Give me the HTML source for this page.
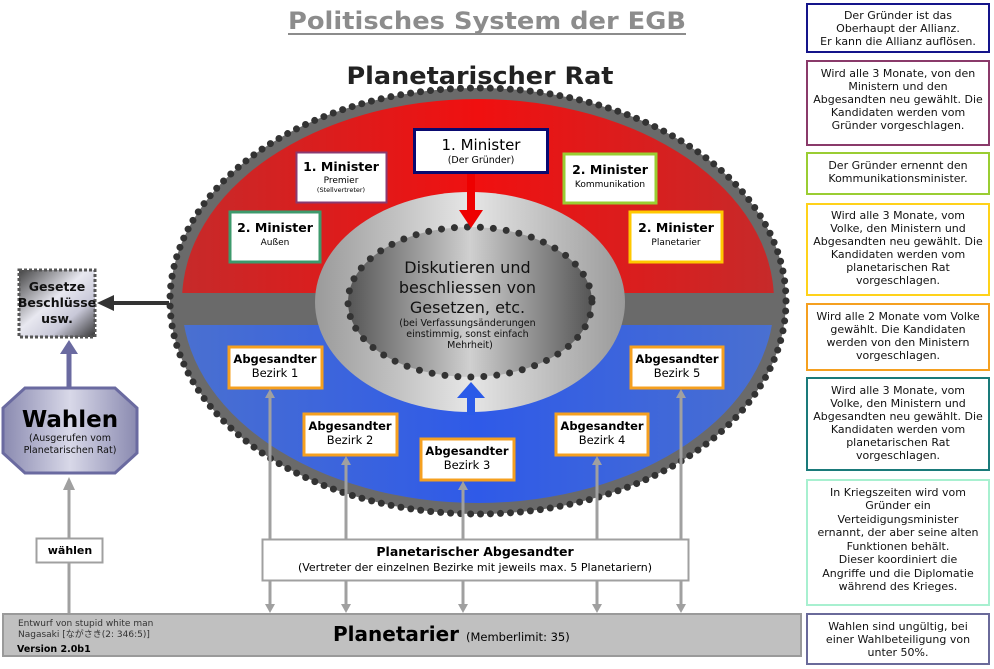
<!DOCTYPE html>
<html><head><meta charset="utf-8"><style>
html,body{margin:0;padding:0;background:#fff;}
svg{display:block;font-family:"DejaVu Sans","Liberation Sans","Noto Sans CJK JP",sans-serif;}
</style></head><body>
<svg width="994" height="669" viewBox="0 0 994 669" xmlns="http://www.w3.org/2000/svg">
<defs>
<linearGradient id="red" x1="0" x2="1"><stop offset="0" stop-color="#c62a2a"/><stop offset="0.5" stop-color="#f01010"/><stop offset="1" stop-color="#c62a2a"/></linearGradient>
<linearGradient id="blue" x1="0" x2="1"><stop offset="0" stop-color="#4a70d0"/><stop offset="0.5" stop-color="#2f5ae8"/><stop offset="1" stop-color="#4a70d0"/></linearGradient>
<linearGradient id="lg" x1="0" x2="1"><stop offset="0" stop-color="#9a9a9a"/><stop offset="0.5" stop-color="#e6e6e6"/><stop offset="1" stop-color="#9a9a9a"/></linearGradient>
<linearGradient id="dg" x1="0" x2="1"><stop offset="0" stop-color="#555"/><stop offset="0.5" stop-color="#d0d0d0"/><stop offset="1" stop-color="#555"/></linearGradient>
<linearGradient id="ges" x1="0" y1="0" x2="1" y2="1"><stop offset="0" stop-color="#444"/><stop offset="0.45" stop-color="#e8e8f0"/><stop offset="0.7" stop-color="#c8c8d8"/><stop offset="1" stop-color="#333"/></linearGradient>
<linearGradient id="wah" x1="0" x2="1"><stop offset="0" stop-color="#8a8ab0"/><stop offset="0.5" stop-color="#d8d8e8"/><stop offset="1" stop-color="#8a8ab0"/></linearGradient>
<clipPath id="top"><rect x="0" y="0" width="994" height="293"/></clipPath>
<clipPath id="bot"><rect x="0" y="325" width="994" height="300"/></clipPath>
</defs>

<text x="487" y="29" text-anchor="middle" font-size="24" font-weight="bold" fill="#8c8c8c" textLength="398" lengthAdjust="spacingAndGlyphs">Politisches System der EGB</text>
<rect x="288" y="33" width="398" height="2" fill="#8c8c8c"/>
<text x="480" y="84" text-anchor="middle" font-size="24" font-weight="bold" fill="#222" textLength="267" lengthAdjust="spacingAndGlyphs">Planetarischer Rat</text>

<ellipse cx="478" cy="301" rx="308" ry="213" fill="#6a6a6a"/>
<ellipse cx="478" cy="301" rx="296" ry="202" fill="url(#red)" clip-path="url(#top)"/>
<ellipse cx="478" cy="301" rx="296" ry="202" fill="url(#blue)" clip-path="url(#bot)"/>
<ellipse cx="478" cy="301" rx="308" ry="213" fill="none" stroke="#333" stroke-width="7" stroke-linecap="round" stroke-dasharray="0 10"/>
<ellipse cx="470" cy="302" rx="155" ry="110" fill="url(#lg)"/>
<ellipse cx="470" cy="302" rx="122" ry="75" fill="url(#dg)"/>
<ellipse cx="470" cy="302" rx="122" ry="75" fill="none" stroke="#333" stroke-width="7" stroke-linecap="round" stroke-dasharray="0 13"/>
<text text-anchor="middle" fill="#111">
<tspan x="470" y="273" font-size="16">Diskutieren und</tspan>
<tspan x="470" y="293" font-size="16">beschliessen von</tspan>
<tspan x="470" y="313" font-size="16">Gesetzen, etc.</tspan>
<tspan x="470" y="326" font-size="9.5">(bei Verfassungsänderungen</tspan>
<tspan x="470" y="337" font-size="9.5">einstimmig, sonst einfach</tspan>
<tspan x="470" y="348" font-size="9.5">Mehrheit)</tspan>
</text>
<rect x="467" y="173" width="8" height="40" fill="#e00"/>
<polygon points="459,210 483,210 471,228" fill="#e00"/>
<rect x="467" y="395" width="8" height="20" fill="#2a5ae8"/>
<polygon points="457,398 485,398 471,382" fill="#2a5ae8"/>

<g text-anchor="middle" fill="#000">
<rect x="414.5" y="129.5" width="133" height="43" fill="#fff" stroke="#0a0a70" stroke-width="3"/>
<text x="481" y="150" font-size="15">1. Minister</text><text x="481" y="163" font-size="9.5">(Der Gründer)</text>
<rect x="296.5" y="152.5" width="90" height="50" fill="#fff" stroke="#8a3a70" stroke-width="2"/>
<text x="341" y="171" font-size="12.5" font-weight="bold">1. Minister</text><text x="341" y="183" font-size="9">Premier</text><text x="341" y="192" font-size="6.5">(Stellvertreter)</text>
<rect x="564" y="154" width="92" height="49" fill="#fff" stroke="#9acd32" stroke-width="3"/>
<text x="610" y="174" font-size="12.5" font-weight="bold">2. Minister</text><text x="610" y="187" font-size="9">Kommunikation</text>
<rect x="230" y="212" width="90" height="50" fill="#fff" stroke="#3d9a6c" stroke-width="3"/>
<text x="275" y="232" font-size="12.5" font-weight="bold">2. Minister</text><text x="275" y="245" font-size="9">Außen</text>
<rect x="630" y="212" width="92" height="50" fill="#fff" stroke="#ffc800" stroke-width="3"/>
<text x="676" y="232" font-size="12.5" font-weight="bold">2. Minister</text><text x="676" y="245" font-size="9">Planetarier</text>
</g>

<g stroke="#a0a0a0" stroke-width="3" fill="none">
<line x1="270" y1="392" x2="270" y2="606"/>
<line x1="346" y1="459" x2="346" y2="606"/>
<line x1="463" y1="484" x2="463" y2="606"/>
<line x1="597" y1="459" x2="597" y2="606"/>
<line x1="681" y1="392" x2="681" y2="606"/>
</g>
<g fill="#a0a0a0">
<polygon points="265,398 275,398 270,389"/><polygon points="265,604 275,604 270,613"/>
<polygon points="341,465 351,465 346,456"/><polygon points="341,604 351,604 346,613"/>
<polygon points="458,490 468,490 463,481"/><polygon points="458,604 468,604 463,613"/>
<polygon points="592,465 602,465 597,456"/><polygon points="592,604 602,604 597,613"/>
<polygon points="676,398 686,398 681,389"/><polygon points="676,604 686,604 681,613"/>
</g>

<g text-anchor="middle" fill="#000">
<rect x="229" y="347" width="93" height="41" fill="#fff" stroke="#f5a020" stroke-width="3"/>
<text x="275" y="363" font-size="11.5" font-weight="bold">Abgesandter</text><text x="275" y="377" font-size="11.5">Bezirk 1</text>
<rect x="304" y="414" width="93" height="41" fill="#fff" stroke="#f5a020" stroke-width="3"/>
<text x="350" y="430" font-size="11.5" font-weight="bold">Abgesandter</text><text x="350" y="444" font-size="11.5">Bezirk 2</text>
<rect x="421" y="439" width="93" height="41" fill="#fff" stroke="#f5a020" stroke-width="3"/>
<text x="467" y="455" font-size="11.5" font-weight="bold">Abgesandter</text><text x="467" y="469" font-size="11.5">Bezirk 3</text>
<rect x="556" y="414" width="92" height="41" fill="#fff" stroke="#f5a020" stroke-width="3"/>
<text x="602" y="430" font-size="11.5" font-weight="bold">Abgesandter</text><text x="602" y="444" font-size="11.5">Bezirk 4</text>
<rect x="631" y="347" width="92" height="41" fill="#fff" stroke="#f5a020" stroke-width="3"/>
<text x="677" y="363" font-size="11.5" font-weight="bold">Abgesandter</text><text x="677" y="377" font-size="11.5">Bezirk 5</text>
</g>

<rect x="262.5" y="539.5" width="426" height="41" fill="#fff" stroke="#a0a0a0" stroke-width="2"/>
<text x="475" y="556" text-anchor="middle" font-size="12.5" font-weight="bold">Planetarischer Abgesandter</text>
<text x="475" y="571" text-anchor="middle" font-size="11">(Vertreter der einzelnen Bezirke mit jeweils max. 5 Planetariern)</text>

<rect x="3" y="614" width="798" height="42" fill="#c0c0c0" stroke="#9a9a9a" stroke-width="2"/>
<text x="18" y="626" font-size="9" fill="#333">Entwurf von stupid white man</text>
<text x="18" y="637" font-size="9" fill="#333">Nagasaki [ながさき(2: 346:5)]</text>
<text x="17" y="652" font-size="9.5" font-weight="bold" fill="#000">Version 2.0b1</text>
<text x="333" y="641" font-size="20" font-weight="bold" fill="#000">Planetarier <tspan font-size="11.5" font-weight="normal">(Memberlimit: 35)</tspan></text>

<line x1="169" y1="303" x2="110" y2="303" stroke="#333" stroke-width="4"/>
<polygon points="97,303 114,295 114,311" fill="#333"/>
<rect x="19" y="270" width="76" height="67" fill="url(#ges)" stroke="#555" stroke-width="3" stroke-dasharray="3 2"/>
<text text-anchor="middle" font-size="12.5" font-weight="bold" fill="#111"><tspan x="57" y="291">Gesetze</tspan><tspan x="57" y="307">Beschlüsse</tspan><tspan x="57" y="323">usw.</tspan></text>
<line x1="69" y1="388" x2="69" y2="352" stroke="#6a6aa0" stroke-width="5"/>
<polygon points="60,354 78,354 69,340" fill="#6a6aa0"/>
<polygon points="25,388 115,388 137,408 137,453 115,473 25,473 3,453 3,408" fill="url(#wah)" stroke="#6a6aa0" stroke-width="3"/>
<text x="70" y="427" text-anchor="middle" font-size="23" font-weight="bold" fill="#000">Wahlen</text>
<text text-anchor="middle" font-size="9.5" fill="#111"><tspan x="70" y="441">(Ausgerufen vom</tspan><tspan x="70" y="453">Planetarischen Rat)</tspan></text>
<line x1="69" y1="538" x2="69" y2="486" stroke="#a0a0a0" stroke-width="3"/>
<polygon points="63,490 75,490 69,477" fill="#a0a0a0"/>
<line x1="69" y1="562" x2="69" y2="613" stroke="#a0a0a0" stroke-width="3"/>
<rect x="36.5" y="538.5" width="66" height="24" fill="#fff" stroke="#a0a0a0" stroke-width="2"/>
<text x="70" y="554" text-anchor="middle" font-size="11" font-weight="bold">wählen</text>

<g text-anchor="middle" font-size="11" fill="#111">
<rect x="807" y="4" width="182" height="48" fill="#fff" stroke="#14148a" stroke-width="2"/>
<text><tspan x="898" y="19">Der Gründer ist das</tspan><tspan x="898" y="32">Oberhaupt der Allianz.</tspan><tspan x="898" y="45">Er kann die Allianz auflösen.</tspan></text>
<rect x="807" y="61" width="182" height="84" fill="#fff" stroke="#8a3a6a" stroke-width="2"/>
<text><tspan x="898" y="77">Wird alle 3 Monate, von den</tspan><tspan x="898" y="90">Ministern und den</tspan><tspan x="898" y="103">Abgesandten neu gewählt. Die</tspan><tspan x="898" y="116">Kandidaten werden vom</tspan><tspan x="898" y="129">Gründer vorgeschlagen.</tspan></text>
<rect x="807" y="153" width="182" height="41" fill="#fff" stroke="#9acd32" stroke-width="2"/>
<text><tspan x="898" y="169">Der Gründer ernennt den</tspan><tspan x="898" y="182">Kommunikationsminister.</tspan></text>
<rect x="807" y="204" width="182" height="91" fill="#fff" stroke="#ffd21a" stroke-width="2"/>
<text><tspan x="898" y="219">Wird alle 3 Monate, vom</tspan><tspan x="898" y="232">Volke, den Ministern und</tspan><tspan x="898" y="245">Abgesandten neu gewählt. Die</tspan><tspan x="898" y="258">Kandidaten werden vom</tspan><tspan x="898" y="271">planetarischen Rat</tspan><tspan x="898" y="284">vorgeschlagen.</tspan></text>
<rect x="807" y="304" width="182" height="66" fill="#fff" stroke="#f5a020" stroke-width="2"/>
<text><tspan x="898" y="320">Wird alle 2 Monate vom Volke</tspan><tspan x="898" y="333">gewählt. Die Kandidaten</tspan><tspan x="898" y="346">werden von den Ministern</tspan><tspan x="898" y="359">vorgeschlagen.</tspan></text>
<rect x="807" y="378" width="182" height="92" fill="#fff" stroke="#1a7a7a" stroke-width="2"/>
<text><tspan x="898" y="394">Wird alle 3 Monate, vom</tspan><tspan x="898" y="407">Volke, den Ministern und</tspan><tspan x="898" y="420">Abgesandten neu gewählt. Die</tspan><tspan x="898" y="433">Kandidaten werden vom</tspan><tspan x="898" y="446">planetarischen Rat</tspan><tspan x="898" y="459">vorgeschlagen.</tspan></text>
<rect x="807" y="480" width="182" height="125" fill="#fff" stroke="#a8f0d0" stroke-width="2"/>
<text><tspan x="898" y="496">In Kriegszeiten wird vom</tspan><tspan x="898" y="509">Gründer ein</tspan><tspan x="898" y="523">Verteidigungsminister</tspan><tspan x="898" y="536">ernannt, der aber seine alten</tspan><tspan x="898" y="550">Funktionen behält.</tspan><tspan x="898" y="563">Dieser koordiniert die</tspan><tspan x="898" y="577">Angriffe und die Diplomatie</tspan><tspan x="898" y="590">während des Krieges.</tspan></text>
<rect x="807" y="614" width="182" height="50" fill="#fff" stroke="#6a6a9a" stroke-width="2"/>
<text><tspan x="898" y="630">Wahlen sind ungültig, bei</tspan><tspan x="898" y="643">einer Wahlbeteiligung von</tspan><tspan x="898" y="656">unter 50%.</tspan></text>
</g>
</svg>
</body></html>
